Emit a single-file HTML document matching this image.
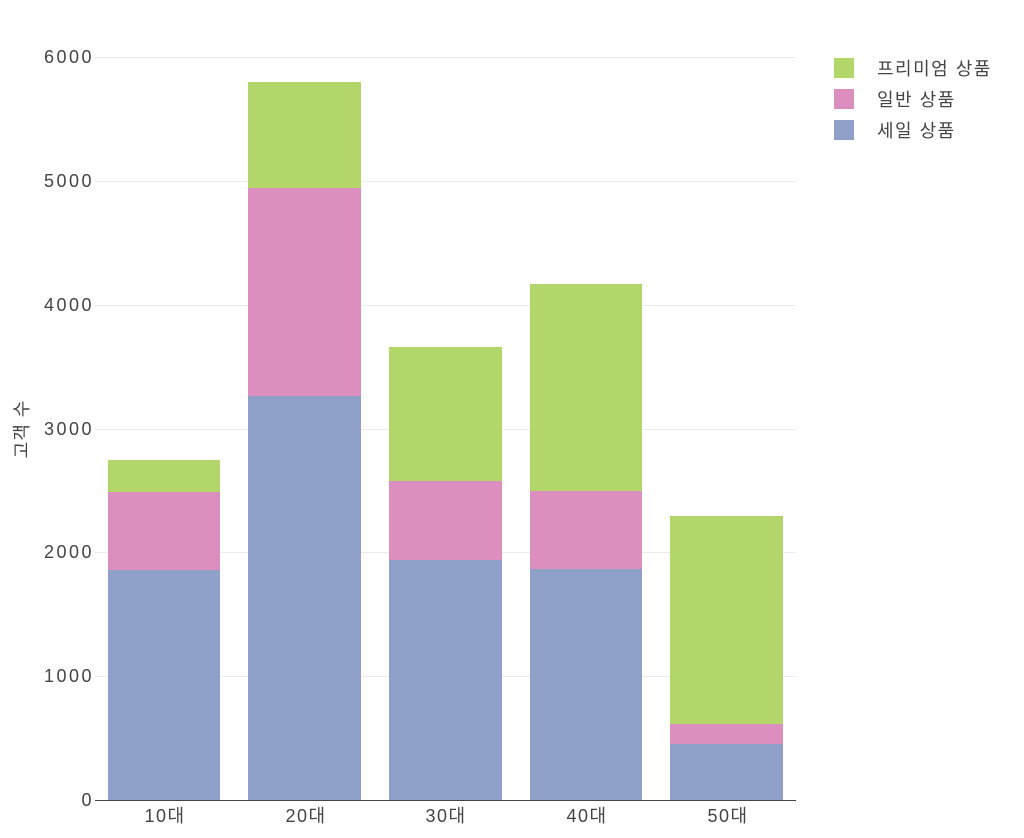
<!DOCTYPE html>
<html><head><meta charset="utf-8"><style>
html,body{margin:0;padding:0;background:#fff;}
svg text{font-family:"Liberation Sans","Noto Sans CJK KR",sans-serif;fill:#444;}
</style></head><body>
<svg width="1024" height="833" xmlns="http://www.w3.org/2000/svg">
<g stroke="#ebebeb" stroke-width="1">
<line x1="95" x2="796" y1="57.5" y2="57.5"/>
<line x1="95" x2="796" y1="181.5" y2="181.5"/>
<line x1="95" x2="796" y1="305.5" y2="305.5"/>
<line x1="95" x2="796" y1="429.5" y2="429.5"/>
<line x1="95" x2="796" y1="552.5" y2="552.5"/>
<line x1="95" x2="796" y1="676.5" y2="676.5"/>
</g>
<g font-size="18" text-anchor="end" letter-spacing="2.5">
<text x="94" y="806">0</text>
<text x="94" y="682">1000</text>
<text x="94" y="558">2000</text>
<text x="94" y="435">3000</text>
<text x="94" y="311">4000</text>
<text x="94" y="187">5000</text>
<text x="94" y="63">6000</text>
</g>
<text transform="translate(28,429) rotate(-90)" font-size="18" text-anchor="middle" letter-spacing="1">고객 수</text>
<g fill="#8fa0c8">
<rect x="108" y="570" width="112" height="230"/>
<rect x="248" y="396" width="113" height="404"/>
<rect x="389" y="560" width="113" height="240"/>
<rect x="530" y="569" width="112" height="231"/>
<rect x="670" y="744" width="113" height="56"/>
</g>
<g fill="#dc8fbf">
<rect x="108" y="492" width="112" height="78"/>
<rect x="248" y="188" width="113" height="208"/>
<rect x="389" y="481" width="113" height="79"/>
<rect x="530" y="491" width="112" height="78"/>
<rect x="670" y="724" width="113" height="20"/>
</g>
<g fill="#b2d66a">
<rect x="108" y="460" width="112" height="32"/>
<rect x="248" y="82" width="113" height="106"/>
<rect x="389" y="347" width="113" height="134"/>
<rect x="530" y="284" width="112" height="207"/>
<rect x="670" y="516" width="113" height="208"/>
</g>
<line x1="95" x2="796" y1="800.5" y2="800.5" stroke="#444" stroke-width="1"/>
<g font-size="18" text-anchor="middle" letter-spacing="1.5">
<text x="165" y="822">10대</text>
<text x="306" y="822">20대</text>
<text x="446" y="822">30대</text>
<text x="587" y="822">40대</text>
<text x="728" y="822">50대</text>
</g>
<rect x="834" y="58" width="20" height="20" fill="#b2d66a"/>
<rect x="834" y="89" width="20" height="20" fill="#dc8fbf"/>
<rect x="834" y="120" width="20" height="20" fill="#8fa0c8"/>
<g font-size="18" letter-spacing="1.5">
<text x="877" y="75">프리미엄 상품</text>
<text x="877" y="106">일반 상품</text>
<text x="877" y="137">세일 상품</text>
</g>
</svg>
</body></html>
